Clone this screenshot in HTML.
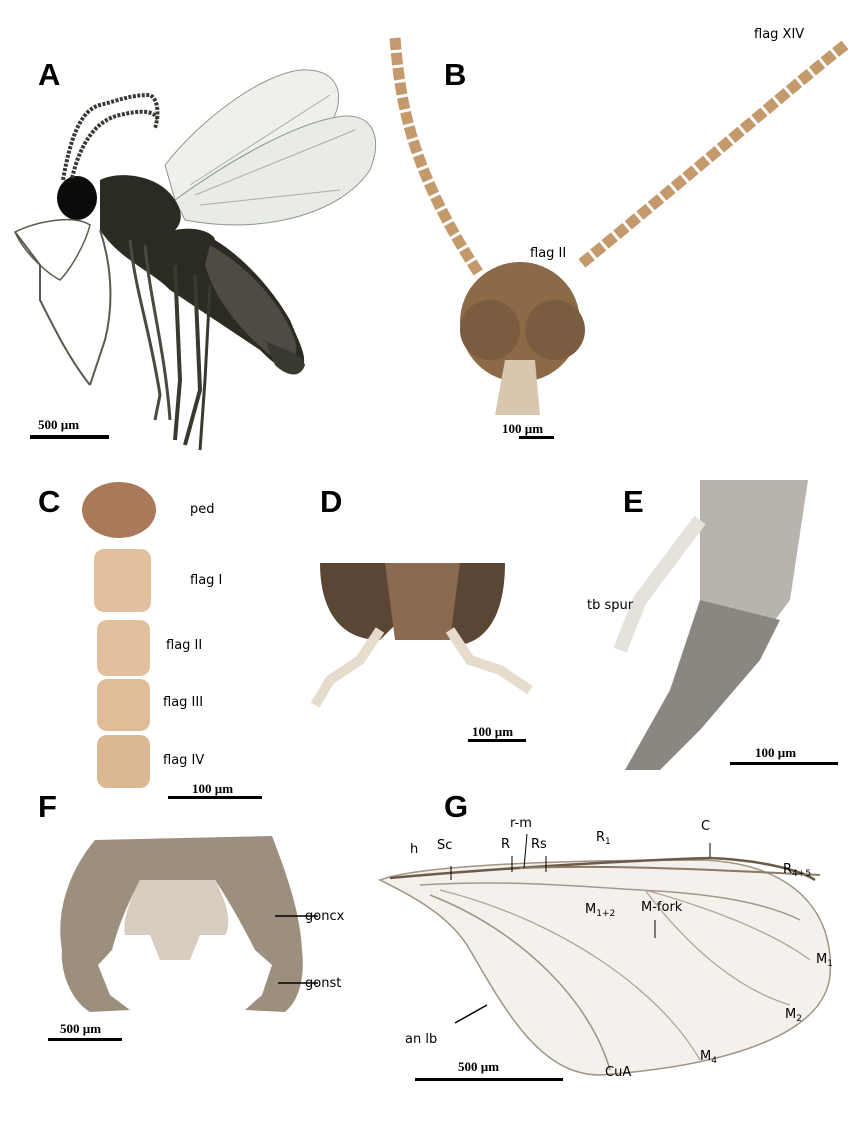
<!DOCTYPE html>
<html><head><meta charset="utf-8"><style>
html,body{margin:0;padding:0;background:#fff;}
svg{display:block}
text{font-family:"DejaVu Sans","Liberation Sans",sans-serif;}
.L{font-family:"Liberation Sans",sans-serif;font-weight:bold;font-size:31px;fill:#000}
.t{font-size:13px;fill:#000}
.s{font-family:"Liberation Serif",serif;font-weight:bold;font-size:13px;fill:#000}
</style></head><body>
<svg width="860" height="1147" viewBox="0 0 860 1147" xmlns="http://www.w3.org/2000/svg">
<rect width="860" height="1147" fill="#fff"/>
<!-- Panel A -->
<text class="L" x="38" y="85">A</text>
<g>
<path d="M165,165 C200,120 260,75 300,70 C335,68 345,90 335,115 C310,160 240,195 175,200 Z" fill="#eef0ec" stroke="#8f968c" stroke-width="1"/>
<path d="M175,200 C230,160 300,120 345,116 C375,115 382,140 370,170 C340,215 260,235 185,220 Z" fill="#e8ebe6" stroke="#8f968c" stroke-width="1"/>
<path d="M190,185 L330,95 M195,195 L355,130 M200,205 L340,190" stroke="#a9ae9f" stroke-width="1" fill="none"/>
<path d="M100,180 C120,170 160,175 175,200 C185,215 180,225 175,230 C200,225 215,235 215,240 C240,255 270,285 290,320 C300,345 310,360 300,370 C285,375 270,360 260,350 C230,330 200,310 170,290 C150,270 120,260 100,230 Z" fill="#2c2b22"/>
<path d="M210,245 C245,265 280,300 295,340 C300,360 290,368 270,355 C240,330 215,300 205,265Z" fill="#4e4c42"/>
<path d="M265,340 C280,350 300,350 305,365 C300,380 285,375 275,365Z" fill="#3a392f"/>
<ellipse cx="77" cy="198" rx="20" ry="22" fill="#0b0b09"/>
<path d="M63,180 C70,140 80,110 100,105 C120,100 130,95 150,95 C160,100 158,120 155,128" stroke="#3a3833" stroke-width="4" fill="none" stroke-dasharray="3 1.5"/>
<path d="M72,178 C80,145 95,120 120,115 C140,110 155,110 158,120" stroke="#3a3833" stroke-width="4" fill="none" stroke-dasharray="3 1.5"/>
<path d="M90,225 C75,215 40,220 15,232 C25,255 50,275 60,280 C70,270 85,245 90,225Z" fill="none" stroke="#5b5a4f" stroke-width="1.5"/>
<path d="M15,232 L40,265 L40,300 C55,330 70,360 90,385" stroke="#5b5a4f" stroke-width="2" fill="none"/>
<path d="M100,230 C110,260 115,300 105,340 L90,385" stroke="#5b5a4f" stroke-width="2" fill="none"/>
<path d="M130,240 C135,290 150,330 160,395 L155,420" stroke="#4a493f" stroke-width="3" fill="none"/>
<path d="M145,245 C150,300 165,350 170,420" stroke="#4a493f" stroke-width="3" fill="none"/>
<path d="M175,265 L180,380 L175,440" stroke="#3a392f" stroke-width="4" fill="none"/>
<path d="M195,275 L200,390 L185,445" stroke="#3a392f" stroke-width="4" fill="none"/>
<path d="M210,285 L205,380 L200,450" stroke="#3a392f" stroke-width="3" fill="none"/>
</g>
<text class="s" x="38" y="429">500 µm</text>
<rect x="30" y="435" width="79" height="4" fill="#000"/>
<!-- Panel B -->
<text class="L" x="444" y="85">B</text>
<path d="M395,38 C400,100 410,170 480,275" stroke="#c49a6c" stroke-width="11" fill="none" stroke-dasharray="12 3"/>
<path d="M845,45 C800,80 720,150 580,265" stroke="#c49a6c" stroke-width="11" fill="none" stroke-dasharray="12 3"/>
<circle cx="520" cy="322" r="60" fill="#8c6a48"/>
<circle cx="490" cy="330" r="30" fill="#7a5c40"/>
<circle cx="555" cy="330" r="30" fill="#7a5c40"/>
<path d="M505,360 L495,415 L540,415 L535,360Z" fill="#d8c6ae"/>
<text class="t" x="754" y="38">flag XIV</text>
<text class="t" x="530" y="257">flag II</text>
<text class="s" x="502" y="433">100 µm</text>
<rect x="519" y="436" width="35" height="3" fill="#000"/>
<!-- Panel C -->
<text class="L" x="38" y="512">C</text>
<ellipse cx="119" cy="510" rx="37" ry="28" fill="#a9795a"/>
<rect x="94" y="549" width="57" height="63" rx="10" fill="#e2c09d"/>
<rect x="97" y="620" width="53" height="56" rx="10" fill="#e2c09d"/>
<rect x="97" y="679" width="53" height="52" rx="10" fill="#e0bd98"/>
<rect x="97" y="735" width="53" height="53" rx="10" fill="#dcb892"/>
<text class="t" x="190" y="513">ped</text>
<text class="t" x="190" y="584">flag I</text>
<text class="t" x="166" y="649">flag II</text>
<text class="t" x="163" y="706">flag III</text>
<text class="t" x="163" y="764">flag IV</text>
<text class="s" x="192" y="793">100 µm</text>
<rect x="168" y="796" width="94" height="3" fill="#000"/>
<!-- Panel D -->
<text class="L" x="320" y="512">D</text>
<path d="M320,563 L505,563 C505,610 490,640 460,645 L440,620 L400,620 L380,640 C340,640 320,610 320,563Z" fill="#5a4634"/>
<path d="M385,563 L460,563 L450,640 L395,640Z" fill="#8a6a50"/>
<path d="M380,630 L360,660 L330,680 L315,705" stroke="#e6dccd" stroke-width="10" fill="none"/>
<path d="M450,630 L470,660 L500,670 L530,690" stroke="#e6dccd" stroke-width="10" fill="none"/>
<text class="s" x="472" y="736">100 µm</text>
<rect x="468" y="739" width="58" height="3" fill="#000"/>
<!-- Panel E -->
<text class="L" x="623" y="512">E</text>
<path d="M700,480 L808,480 L790,600 L760,640 L700,600 Z" fill="#b9b3ad"/>
<path d="M700,600 L780,620 L760,660 L700,730 L660,770 L625,770 L670,690 Z" fill="#8c8680"/>
<path d="M700,520 L640,600 L620,650" stroke="#e5e2dc" stroke-width="14" fill="none"/>
<text class="t" x="587" y="609">tb spur</text>
<text class="s" x="755" y="757">100 µm</text>
<rect x="730" y="762" width="108" height="3" fill="#000"/>
<!-- Panel F -->
<text class="L" x="38" y="817">F</text>
<path d="M95,840 L272,836 C285,870 300,910 302,950 C305,975 300,1000 285,1012 L245,1010 L262,995 L272,965 L255,950 C240,920 225,895 215,880 L140,880 C130,900 120,920 112,950 L98,965 L110,995 L130,1010 L90,1012 C70,1000 60,970 62,950 C55,910 70,870 95,840Z" fill="#9d8f7e"/>
<path d="M140,880 L215,880 C228,905 232,925 225,935 L200,935 L190,960 L160,960 L150,935 L125,935 C122,920 130,900 140,880Z" fill="#d6cdc0"/>
<line x1="275" y1="916" x2="318" y2="916" stroke="#000" stroke-width="1.5"/>
<line x1="278" y1="983" x2="318" y2="983" stroke="#000" stroke-width="1.5"/>
<text class="t" x="305" y="920">goncx</text>
<text class="t" x="305" y="987">gonst</text>
<text class="s" x="60" y="1033">500 µm</text>
<rect x="48" y="1038" width="74" height="3" fill="#000"/>
<!-- Panel G -->
<text class="L" x="444" y="817">G</text>
<path d="M380,880 C420,865 560,860 700,860 C790,862 835,910 830,975 C825,1030 740,1065 600,1075 C540,1075 505,1010 470,950 C450,915 410,895 380,880Z" fill="#f4f1ec" stroke="#a09484" stroke-width="1.5"/>
<path d="M390,878 C500,868 640,860 710,858 C760,860 800,870 815,880" stroke="#6b5a48" stroke-width="2.5" fill="none"/>
<path d="M520,868 C600,865 680,868 820,875" stroke="#8a7a66" stroke-width="2" fill="none"/>
<path d="M420,885 C500,880 560,885 640,890 C700,893 760,900 800,920" stroke="#a3978a" stroke-width="1.5" fill="none"/>
<path d="M645,890 C700,905 770,930 810,960" stroke="#b0a598" stroke-width="1.3" fill="none"/>
<path d="M645,890 C690,950 740,990 790,1005" stroke="#b0a598" stroke-width="1.3" fill="none"/>
<path d="M440,890 C560,920 660,990 700,1060" stroke="#b0a598" stroke-width="1.3" fill="none"/>
<path d="M430,895 C520,930 590,1000 610,1070" stroke="#9e9282" stroke-width="1.5" fill="none"/>
<line x1="451" y1="866" x2="451" y2="880" stroke="#000"/>
<line x1="512" y1="856" x2="512" y2="872" stroke="#000"/>
<line x1="527" y1="834" x2="524" y2="868" stroke="#000"/>
<line x1="546" y1="856" x2="546" y2="872" stroke="#000"/>
<line x1="710" y1="843" x2="710" y2="857" stroke="#000"/>
<line x1="655" y1="920" x2="655" y2="938" stroke="#000"/>
<line x1="455" y1="1023" x2="487" y2="1005" stroke="#000" stroke-width="1.5"/>
<text class="t" x="410" y="853">h</text>
<text class="t" x="437" y="849">Sc</text>
<text class="t" x="501" y="848">R</text>
<text class="t" x="510" y="827">r-m</text>
<text class="t" x="531" y="848">Rs</text>
<text class="t" x="596" y="841">R<tspan font-size="9" dy="3">1</tspan></text>
<text class="t" x="701" y="830">C</text>
<text class="t" x="783" y="873">R<tspan font-size="9" dy="3">4+5</tspan></text>
<text class="t" x="585" y="913">M<tspan font-size="9" dy="3">1+2</tspan></text>
<text class="t" x="641" y="911">M-fork</text>
<text class="t" x="816" y="963">M<tspan font-size="9" dy="3">1</tspan></text>
<text class="t" x="785" y="1018">M<tspan font-size="9" dy="3">2</tspan></text>
<text class="t" x="700" y="1060">M<tspan font-size="9" dy="3">4</tspan></text>
<text class="t" x="605" y="1076">CuA</text>
<text class="t" x="405" y="1043">an lb</text>
<text class="s" x="458" y="1071">500 µm</text>
<rect x="415" y="1078" width="148" height="3" fill="#000"/>
</svg>
</body></html>
